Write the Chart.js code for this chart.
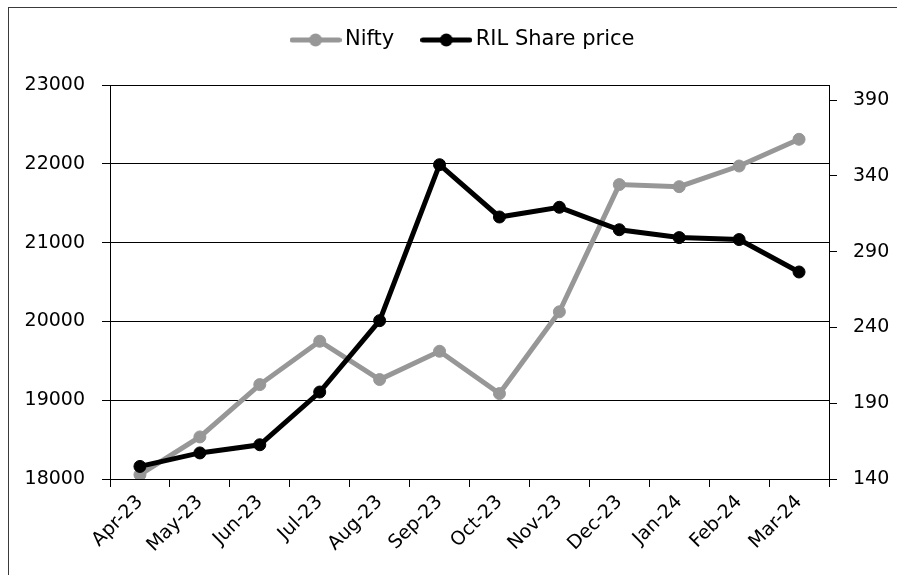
<!DOCTYPE html>
<html>
<head>
<meta charset="utf-8">
<title>Nifty vs RIL Share price</title>
<script src="https://cdn.jsdelivr.net/npm/chart.js@4.4.1/dist/chart.umd.min.js"></script>
<style>
  html, body { margin: 0; padding: 0; background: #fff; }
  #wrap { width: 897px; height: 575px; position: relative; }
</style>
</head>
<body>
<div id="wrap"><canvas id="myChart"></canvas></div>
<script>
// chart data
var months = ["Apr-23", "May-23", "Jun-23", "Jul-23", "Aug-23", "Sep-23",
  "Oct-23", "Nov-23", "Dec-23", "Jan-24", "Feb-24", "Mar-24"];
var nifty = [18055, 18534, 19198, 19748, 19262, 19621, 19084, 20122, 21736, 21710, 21972, 22311];
var rilPrice = [148.3, 157.2, 162.6, 197.4, 244.5, 347.4, 312.9, 319.3, 304.5, 299.3, 298, 276.6];
var niftyTicks = [18000, 19000, 20000, 21000, 22000, 23000];
var rilTicks = [140, 190, 240, 290, 340, 390];

var gray = "#979797";
var black = "#000000";
var tickFont = { family: "'DejaVu Sans', Verdana, sans-serif", size: 19 };

Chart.defaults.color = "#000";
Chart.defaults.font.family = "'DejaVu Sans', Verdana, sans-serif";

// line + dot symbol for the legend
function legendSymbol(color) {
  var c = document.createElement("canvas");
  c.width = 52;
  c.height = 16;
  var g = c.getContext("2d");
  g.strokeStyle = color;
  g.lineWidth = 5;
  g.lineCap = "round";
  g.beginPath();
  g.moveTo(2.5, 8);
  g.lineTo(49.5, 8);
  g.stroke();
  g.fillStyle = color;
  g.beginPath();
  g.arc(26, 8, 6.5, 0, Math.PI * 2);
  g.fill();
  return c;
}
var symbols = [legendSymbol(gray), legendSymbol(black)];

// keeps the plot top where the excel one is, nudges the legend row
var legendPlace = {
  id: "legendPlace",
  beforeInit: function(chart) {
    var fit = chart.legend.fit;
    chart.legend.fit = function() {
      fit.call(this);
      this.height = 85;
      if (this.lineWidths && this.lineWidths.length) this.lineWidths[0] += 8;
    };
  },
  afterLayout: function(chart) {
    chart.legend.top -= 3.5;
  }
};

// outer chart frame (cut off on the right and bottom)
var frame = {
  id: "frame",
  beforeDraw: function(chart) {
    var ctx = chart.ctx;
    ctx.save();
    ctx.strokeStyle = "#3a3a3a";
    ctx.lineWidth = 1;
    ctx.strokeRect(8.5, 7.5, chart.width + 20, chart.height + 20);
    ctx.restore();
  }
};

var ctx = document.getElementById("myChart");

var chart = new Chart(ctx, {
  type: "line",
  data: {
    labels: months,
    datasets: [
      {
        label: "Nifty",
        data: nifty,
        yAxisID: "y",
        borderColor: gray,
        backgroundColor: gray,
        borderWidth: 5,
        pointRadius: 6,
        pointBorderWidth: 1,
        pointBackgroundColor: gray,
        pointBorderColor: gray,
        order: 1
      },
      {
        label: "RIL Share price",
        data: rilPrice,
        yAxisID: "y1",
        borderColor: black,
        backgroundColor: black,
        borderWidth: 5,
        pointRadius: 6,
        pointBorderWidth: 1,
        pointBackgroundColor: black,
        pointBorderColor: black,
        order: 0
      }
    ]
  },
  options: {
    responsive: true,
    maintainAspectRatio: false,
    animation: false,
    layout: { padding: 0 },
    plugins: {
      tooltip: { enabled: false },
      legend: {
        position: "top",
        fullSize: false,
        labels: {
          usePointStyle: true,
          pointStyleWidth: 38,
          padding: 33,
          color: "#000",
          font: { family: "'DejaVu Sans', Verdana, sans-serif", size: 21 },
          generateLabels: function(chart) {
            var items = Chart.defaults.plugins.legend.labels.generateLabels(chart);
            items.sort(function(a, b) { return a.datasetIndex - b.datasetIndex; });
            items.forEach(function(item) {
              item.pointStyle = symbols[item.datasetIndex];
            });
            return items;
          }
        }
      }
    },
    scales: {
      x: {
        offset: true,
        grid: {
          offset: true,
          drawOnChartArea: false,
          tickLength: 8,
          tickColor: "#000",
          color: "#000"
        },
        border: { color: "#000" },
        ticks: {
          autoSkip: false,
          minRotation: 45,
          maxRotation: 45,
          padding: 4,
          color: "#000",
          font: tickFont
        },
        afterFit: function(scale) { scale.height = 96; }
      },
      y: {
        position: "left",
        min: 18000,
        max: 23000,
        afterBuildTicks: function(scale) {
          scale.ticks = niftyTicks.map(function(v) { return { value: v }; });
        },
        ticks: {
          padding: 17,
          color: "#000",
          font: tickFont,
          callback: function(v) { return String(v); }
        },
        grid: { color: "#000", tickColor: "#000", tickLength: 8 },
        border: { color: "#000" },
        afterFit: function(scale) { scale.width = 110; }
      },
      y1: {
        position: "right",
        min: 140,
        max: 400,
        afterBuildTicks: function(scale) {
          scale.ticks = rilTicks.map(function(v) { return { value: v }; });
        },
        ticks: {
          padding: 16,
          color: "#000",
          font: tickFont,
          callback: function(v) { return String(v); }
        },
        grid: { drawOnChartArea: false, tickColor: "#000", tickLength: 8 },
        border: { color: "#000" },
        afterFit: function(scale) { scale.width = 68; }
      }
    }
  },
  plugins: [legendPlace, frame]
});
</script>
</body>
</html>
